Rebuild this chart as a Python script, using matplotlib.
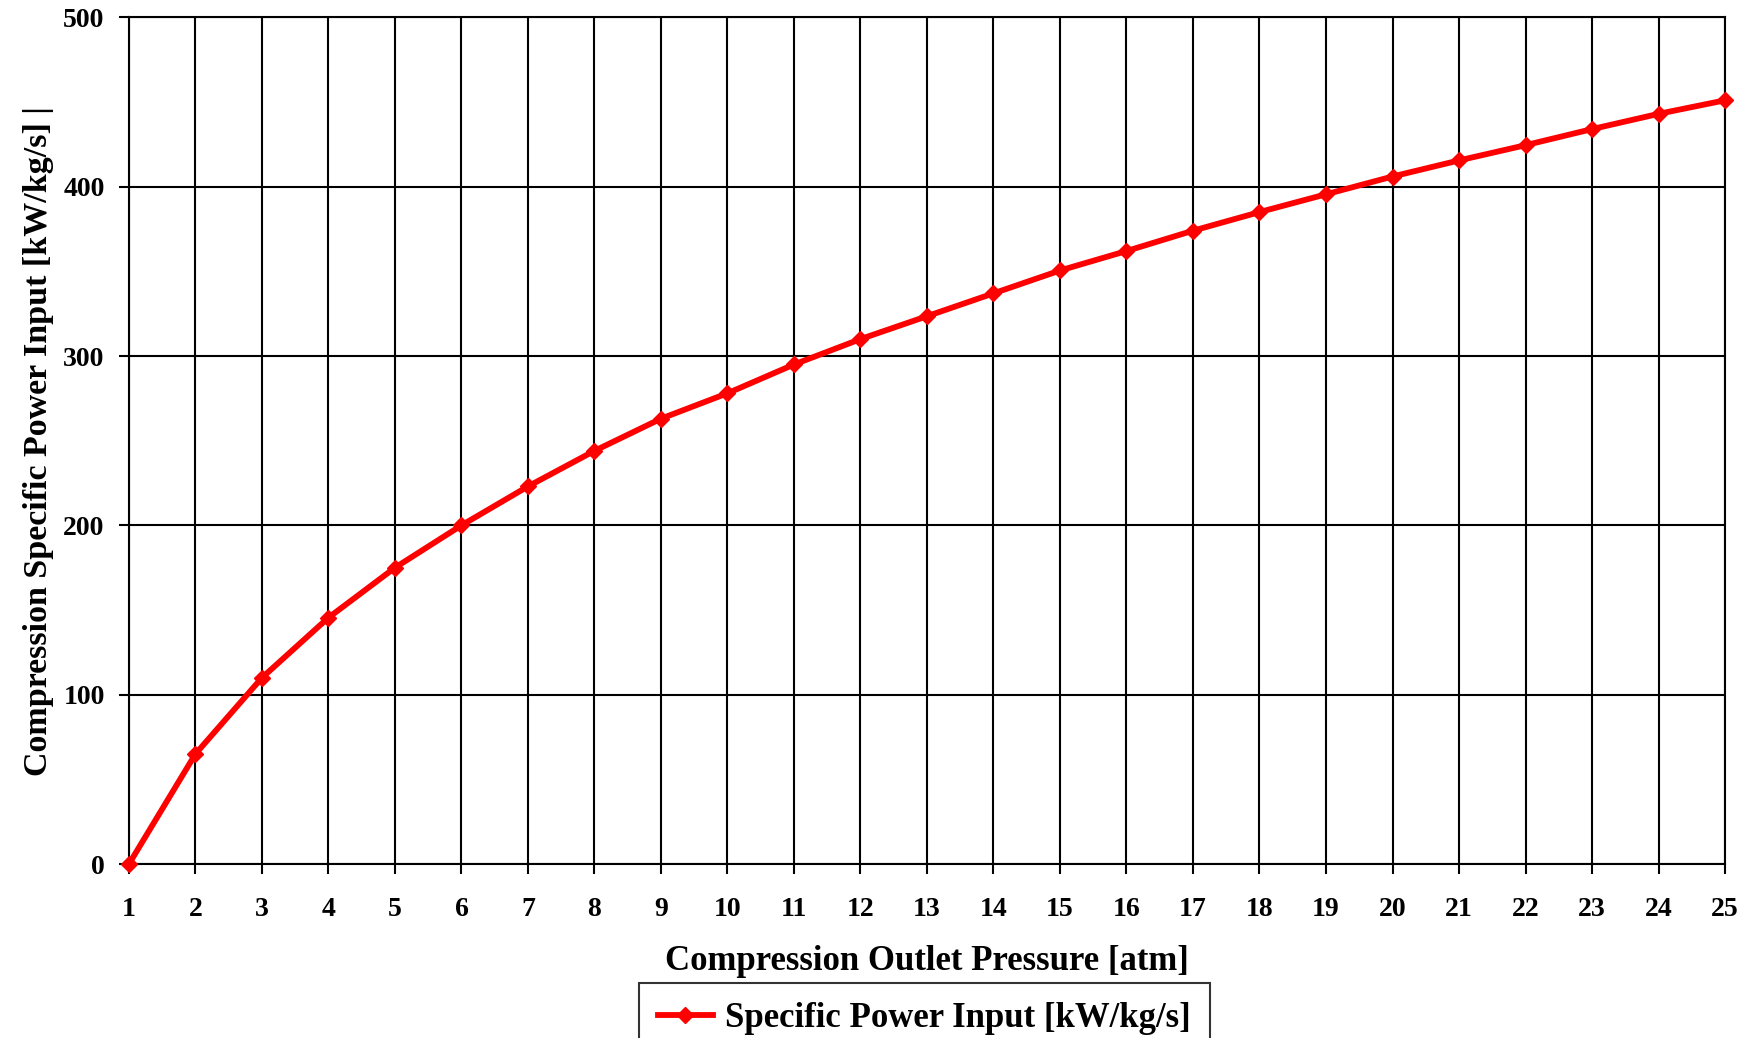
import numpy as np
import matplotlib
matplotlib.use("Agg")
import matplotlib.pyplot as plt

# values
pressure = [1, 2, 3, 4, 5, 6, 7, 8, 9, 10, 11, 12, 13, 14, 15,
            16, 17, 18, 19, 20, 21, 22, 23, 24, 25]
power = [0, 65, 110, 145.5, 175, 200, 223, 244, 263, 278, 295, 310, 323.5,
         337, 350.5, 362, 374, 385, 395.5, 406, 415.5, 424.5, 434, 443, 451]
y_ticks = [0, 100, 200, 300, 400, 500]

plt.rcParams['font.family'] = ['Liberation Serif', 'DejaVu Serif']
plt.rcParams['font.weight'] = 'bold'

fig = plt.figure(figsize=(17.52, 10.38), dpi=100)
ax = fig.add_axes([0.0736, 0.1676, 0.911, 0.8157])

ax.plot(pressure, power, color='#ff0000', lw=4.2, marker='D', ms=8,
        label='Specific Power Input [kW/kg/s]', clip_on=False, zorder=3)

ax.set_xlim(1, 25)
ax.set_ylim(0, 500)
ax.set_xticks(pressure)
ax.set_yticks(y_ticks)
ax.grid(True, color='black', lw=1.5)
for s in ax.spines.values():
    s.set_linewidth(1.5)
    s.set_color('black')
ax.tick_params(axis='both', direction='out', length=7.5, width=1.5, labelsize=20)
ax.tick_params(axis='x', pad=16)
ax.tick_params(axis='y', pad=10)

ax.set_xlabel('Compression Outlet Pressure [atm]', fontsize=25, fontweight='bold', labelpad=17)
ax.set_ylabel('Compression Specific Power Input [kW/kg/s] |', fontsize=24.5, fontweight='bold', labelpad=7)

leg = fig.legend(loc='upper center', bbox_to_anchor=(0.5276, 0.0695), fontsize=25,
                 frameon=True, fancybox=False, edgecolor='black', handlelength=1.6,
                 handletextpad=0.35, borderpad=0.55, bbox_transform=fig.transFigure)
leg.get_frame().set_linewidth(1.5)

fig.savefig('out.png', dpi=100)
